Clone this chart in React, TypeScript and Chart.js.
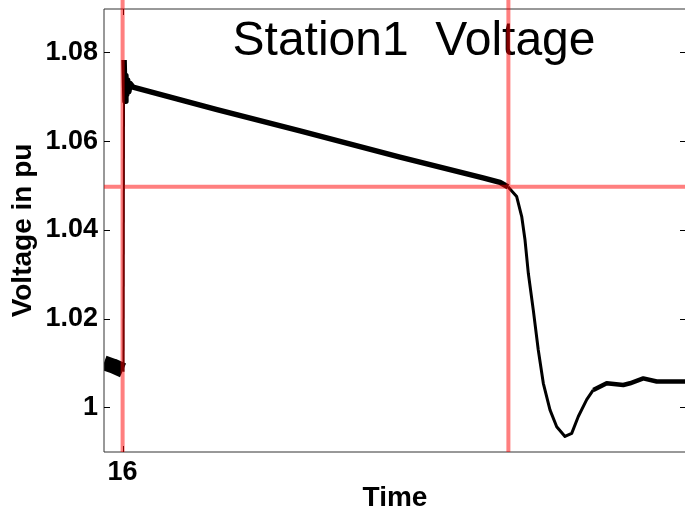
import React, { useEffect, useRef } from "react";
import { Chart, registerables } from "chart.js";

Chart.register(...registerables);

// Time axis (s) and voltage axis (pu) limits and ticks
const X_MIN = 15.969;
const X_MAX = 16.939;
const X_TICKS = [16];
const Y_MIN = 0.9899;
const Y_MAX = 1.0898;
const Y_TICKS = [1, 1.02, 1.04, 1.06, 1.08];

// Marker lines
const EVENT_TIMES = [16, 16.643];
const REF_VOLTAGE = 1.0497;

// Pre-disturbance noisy band
const PRE_TIME = [15.969, 15.984, 16.0007];
const PRE_VOLT = [1.01, 1.0093, 1.0083];

// Step up at the switching instant
const JUMP_TIME = [16.0015, 16.0025];
const JUMP_VOLT = [1.008, 1.0783];

// Overshoot and slow decay
const DECAY_TIME = [
  16.0025, 16.004, 16.0055, 16.007, 16.0085, 16.0105, 16.0125, 16.0173,
  16.1573, 16.2957, 16.4623, 16.6007, 16.629, 16.6423,
];
const DECAY_VOLT = [
  1.0783, 1.069, 1.0748, 1.0705, 1.0738, 1.0712, 1.073, 1.0722,
  1.0671, 1.0623, 1.0564, 1.0517, 1.0507, 1.0497,
];

// Voltage collapse, undershoot and recovery
const REC_TIME = [
  16.6423, 16.6568, 16.6652, 16.6707, 16.6762, 16.6845, 16.6928, 16.7012,
  16.7123, 16.7235, 16.7373, 16.7485, 16.7595, 16.7735, 16.7845, 16.8068,
  16.8345, 16.8457, 16.8678, 16.8902, 16.939,
];
const REC_VOLT = [
  1.0497, 1.0475, 1.043, 1.0377, 1.0302, 1.0219, 1.0129, 1.0054,
  0.9994, 0.9956, 0.9934, 0.9941, 0.9979, 1.0017, 1.0039, 1.0054,
  1.005, 1.0054, 1.0065, 1.0058, 1.0058,
];

const TITLE = "Station1  Voltage";
const FONT = '"Liberation Sans", Arial, Helvetica, sans-serif';

const toPoints = (xs: number[], ys: number[]) => xs.map((x, i) => ({ x, y: ys[i] }));

const decorPlugin = {
  id: "decor",
  afterDatasetsDraw(chart: any) {
    const { ctx, chartArea: a, scales } = chart;
    const xs = scales.x;
    const ys = scales.y;
    ctx.save();

    // in-plot title
    ctx.font = `48px ${FONT}`;
    ctx.fillStyle = "#000";
    ctx.textAlign = "center";
    ctx.textBaseline = "alphabetic";
    ctx.fillText(TITLE, 414, 55);

    // box
    ctx.strokeStyle = "#333";
    ctx.lineWidth = 1;
    ctx.beginPath();
    ctx.moveTo(a.left, a.top);
    ctx.lineTo(a.right, a.top);
    ctx.moveTo(a.left, a.top);
    ctx.lineTo(a.left, a.bottom);
    ctx.moveTo(a.left, a.bottom);
    ctx.lineTo(a.right, a.bottom);
    ctx.moveTo(a.right, a.top);
    ctx.lineTo(a.right, a.bottom);
    ctx.stroke();

    // inward tick marks on all four sides
    ctx.strokeStyle = "#000";
    ctx.beginPath();
    for (const v of Y_TICKS) {
      const py = Math.round(ys.getPixelForValue(v)) + 0.5;
      ctx.moveTo(a.left, py);
      ctx.lineTo(a.left + 6, py);
      ctx.moveTo(a.right, py);
      ctx.lineTo(a.right - 6, py);
    }
    for (const v of X_TICKS) {
      const px = Math.round(xs.getPixelForValue(v)) + 0.5;
      ctx.moveTo(px, a.bottom);
      ctx.lineTo(px, a.bottom - 6);
      ctx.moveTo(px, a.top);
      ctx.lineTo(px, a.top + 6);
    }
    ctx.stroke();

    // event markers
    ctx.strokeStyle = "rgba(255,0,0,0.5)";
    ctx.lineWidth = 4;
    ctx.beginPath();
    for (const t of EVENT_TIMES) {
      const px = xs.getPixelForValue(t);
      ctx.moveTo(px, 0);
      ctx.lineTo(px, a.bottom);
    }
    const hy = ys.getPixelForValue(REF_VOLTAGE);
    ctx.moveTo(a.left, hy);
    ctx.lineTo(a.right, hy);
    ctx.stroke();

    ctx.restore();
  },
};

export default function App() {
  const ref = useRef<HTMLCanvasElement | null>(null);

  useEffect(() => {
    if (!ref.current) return;
    const base = {
      borderColor: "#000",
      pointRadius: 0,
      fill: false,
      tension: 0,
      clip: 0,
      borderCapStyle: "butt" as const,
      borderJoinStyle: "round" as const,
    };
    const chart = new Chart(ref.current, {
      type: "line",
      data: {
        datasets: [
          { ...base, label: "pre", data: toPoints(PRE_TIME, PRE_VOLT), borderWidth: 15 },
          { ...base, label: "jump", data: toPoints(JUMP_TIME, JUMP_VOLT), borderWidth: 2 },
          { ...base, label: "decay", data: toPoints(DECAY_TIME, DECAY_VOLT), borderWidth: 5.5 },
          {
            ...base,
            label: "recovery",
            data: toPoints(REC_TIME, REC_VOLT),
            borderWidth: 3,
            segment: {
              borderWidth: (c: any) => (c.p0.parsed.x >= 16.784 ? 4.5 : 3),
            },
          },
        ],
      },
      options: {
        animation: false,
        responsive: false,
        maintainAspectRatio: false,
        devicePixelRatio: 1,
        events: [],
        layout: { padding: { left: 0, top: 9, right: 6, bottom: 0 } },
        plugins: {
          legend: { display: false },
          tooltip: { enabled: false },
          title: { display: false },
        },
        scales: {
          x: {
            type: "linear",
            min: X_MIN,
            max: X_MAX,
            afterBuildTicks: (axis: any) => {
              axis.ticks = X_TICKS.map((value) => ({ value }));
            },
            afterFit: (s: any) => {
              s.height = 60;
              s.paddingLeft = 0;
              s.paddingRight = 0;
            },
            grid: { display: false, drawTicks: false },
            border: { display: false },
            ticks: {
              color: "#000",
              padding: 4,
              maxRotation: 0,
              autoSkip: false,
              font: { family: FONT, size: 27, weight: "bold", lineHeight: 1.2 },
              callback: (v: any) => String(v),
            },
            title: {
              display: true,
              text: "Time",
              color: "#000",
              font: { family: FONT, size: 28, weight: "bold", lineHeight: 1 },
              padding: { top: 0, bottom: 0 },
            },
          },
          y: {
            type: "linear",
            min: Y_MIN,
            max: Y_MAX,
            afterBuildTicks: (axis: any) => {
              axis.ticks = Y_TICKS.map((value) => ({ value }));
            },
            afterFit: (s: any) => {
              s.width = 104;
              s.paddingTop = 0;
              s.paddingBottom = 0;
            },
            grid: { display: false, drawTicks: false },
            border: { display: false },
            ticks: {
              color: "#000",
              padding: 6,
              autoSkip: false,
              font: { family: FONT, size: 27, weight: "bold", lineHeight: 1.2 },
              callback: (v: any) => String(Number(Number(v).toFixed(2))),
            },
            title: {
              display: true,
              text: "Voltage in pu",
              color: "#000",
              font: { family: FONT, size: 28, weight: "bold", lineHeight: 1 },
              padding: { top: 9, bottom: 0 },
            },
          },
        },
      },
      plugins: [decorPlugin],
    });
    return () => chart.destroy();
  }, []);

  return (
    <div
      style={{
        position: "fixed",
        left: 0,
        top: 0,
        width: 685,
        height: 512,
        overflow: "hidden",
        background: "#fff",
      }}
    >
      <canvas ref={ref} width={692} height={512} style={{ display: "block", width: 692, height: 512 }} />
    </div>
  );
}
